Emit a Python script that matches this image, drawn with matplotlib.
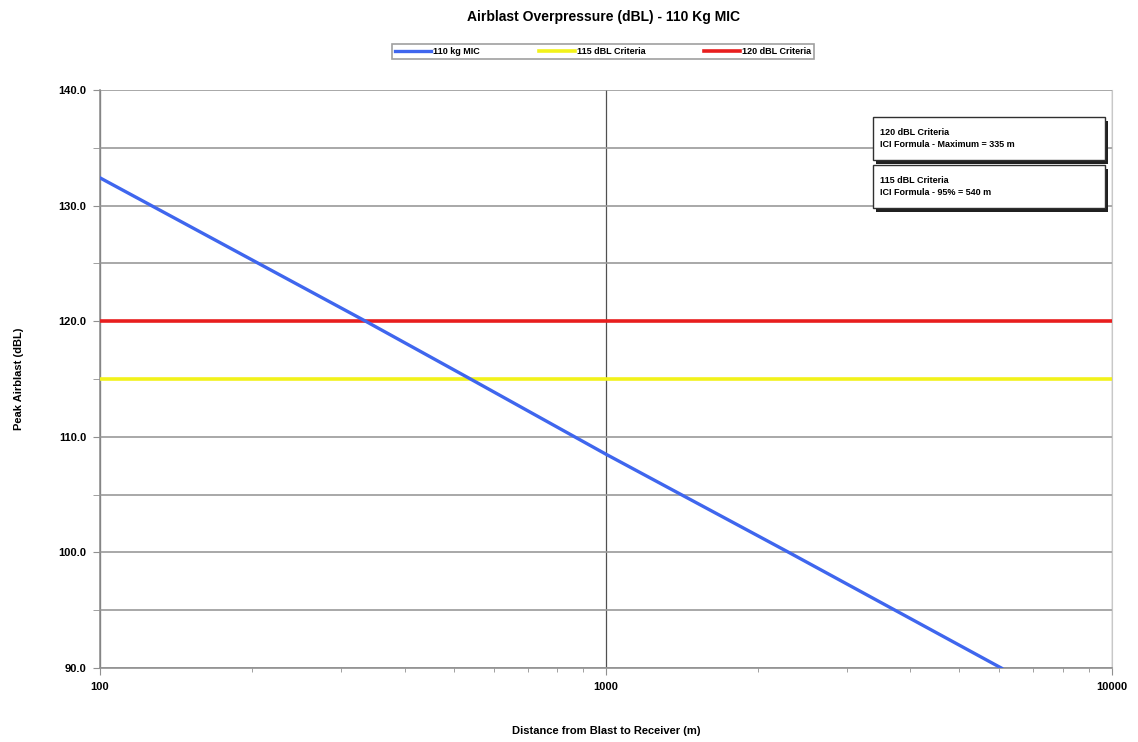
import matplotlib
matplotlib.use("Agg")
import matplotlib.pyplot as plt
from matplotlib.patches import Rectangle
from matplotlib.ticker import FixedLocator, LogLocator, NullFormatter, FuncFormatter

# ---- data ----
distance_m = [100, 335, 540, 1000, 2300, 6050]
airblast_dbl = [132.4, 120.0, 115.0, 108.5, 100.0, 90.0]
criteria_115 = 115.0
criteria_120 = 120.0
x_range = [100, 10000]
series_labels = ["110 kg MIC", "115 dBL Criteria", "120 dBL Criteria"]
y_ticks = [90, 100, 110, 120, 130, 140]
y_minor = [95, 105, 115, 125, 135]
x_ticks = [100, 1000, 10000]
note_120 = "120 dBL Criteria\nICI Formula - Maximum = 335 m"
note_115 = "115 dBL Criteria\nICI Formula - 95% = 540 m"

plt.rcParams['font.family'] = ['Liberation Sans', 'DejaVu Sans']

fig = plt.figure(figsize=(11.38, 7.42), dpi=100)
ax = fig.add_axes([0.0879, 0.0997, 0.889, 0.779])

ax.plot(x_range, [criteria_120, criteria_120], color="#e81e1e", lw=2.6, zorder=3, label=series_labels[2])
ax.plot(x_range, [criteria_115, criteria_115], color="#f2f21a", lw=2.6, zorder=3, label=series_labels[1])
ax.plot(distance_m, airblast_dbl, color="#3f66ee", lw=2.4, zorder=4, label=series_labels[0])

ax.set_xscale('log')
ax.set_xlim(x_range)
ax.set_ylim(90, 140)

ax.yaxis.set_major_locator(FixedLocator(y_ticks))
ax.yaxis.set_minor_locator(FixedLocator(y_minor))
ax.yaxis.set_major_formatter(FuncFormatter(lambda v, p: f"{v:.1f}"))
ax.xaxis.set_major_locator(FixedLocator(x_ticks))
ax.xaxis.set_major_formatter(FuncFormatter(lambda v, p: f"{int(v)}"))
ax.xaxis.set_minor_locator(LogLocator(base=10, subs=range(2, 10)))
ax.xaxis.set_minor_formatter(NullFormatter())

ax.grid(axis='y', which='both', color='#9a9a9a', lw=1.2, zorder=1)
ax.grid(axis='x', which='major', color='#505050', lw=0.9, zorder=1)

ax.spines['top'].set_visible(False)
ax.spines['right'].set_color('#c8c8c8')
ax.spines['left'].set_color('#909090')
ax.spines['bottom'].set_color('#909090')
ax.spines['left'].set_linewidth(1.2)
ax.spines['bottom'].set_linewidth(1.2)

ax.tick_params(axis='both', which='major', length=5, color='#909090', labelsize=8, pad=5)
ax.tick_params(axis='y', which='minor', length=5, color='#909090')
ax.tick_params(axis='x', which='minor', length=3, color='#909090')
for lab in ax.get_xticklabels() + ax.get_yticklabels():
    lab.set_fontweight('bold')

ax.set_xlabel("Distance from Blast to Receiver (m)", fontsize=8, fontweight='bold')
ax.set_ylabel("Peak Airblast (dBL)", fontsize=8, fontweight='bold')
ax.yaxis.set_label_coords(-0.075, 0.5)
ax.xaxis.set_label_coords(0.5, -0.1)

fig.text(0.53, 0.977, "Airblast Overpressure (dBL) - 110 Kg MIC", ha='center', va='center',
         fontsize=10, fontweight='bold')

h, l = ax.get_legend_handles_labels()
order = [2, 1, 0]
leg = fig.legend([h[i] for i in order], [l[i] for i in order], loc='center',
                 bbox_to_anchor=(0.53, 0.931), ncol=3, fontsize=6.5, frameon=True,
                 fancybox=False, edgecolor='#888888', handlelength=4.0, columnspacing=6.5,
                 borderpad=0.35, handletextpad=0.2, borderaxespad=0)
leg.get_frame().set_linewidth(1.2)
for t in leg.get_texts():
    t.set_fontweight('bold')

# annotation boxes with shadow (figure coords)
def note(x0, y0, w, hgt, text):
    fig.patches.append(Rectangle((x0 + 0.003, y0 - 0.005), w, hgt, transform=fig.transFigure,
                                 facecolor='#202020', edgecolor='none', zorder=5))
    fig.patches.append(Rectangle((x0, y0), w, hgt, transform=fig.transFigure,
                                 facecolor='white', edgecolor='#303030', lw=1.0, zorder=6))
    fig.text(x0 + 0.006, y0 + hgt / 2, text, ha='left', va='center', fontsize=6.5,
             fontweight='bold', linespacing=1.35, zorder=7)

note(0.767, 1 - 160 / 742, 0.204, 43 / 742, note_120)
note(0.767, 1 - 208 / 742, 0.204, 43 / 742, note_115)

fig.savefig("out.png", dpi=100, facecolor='white')
